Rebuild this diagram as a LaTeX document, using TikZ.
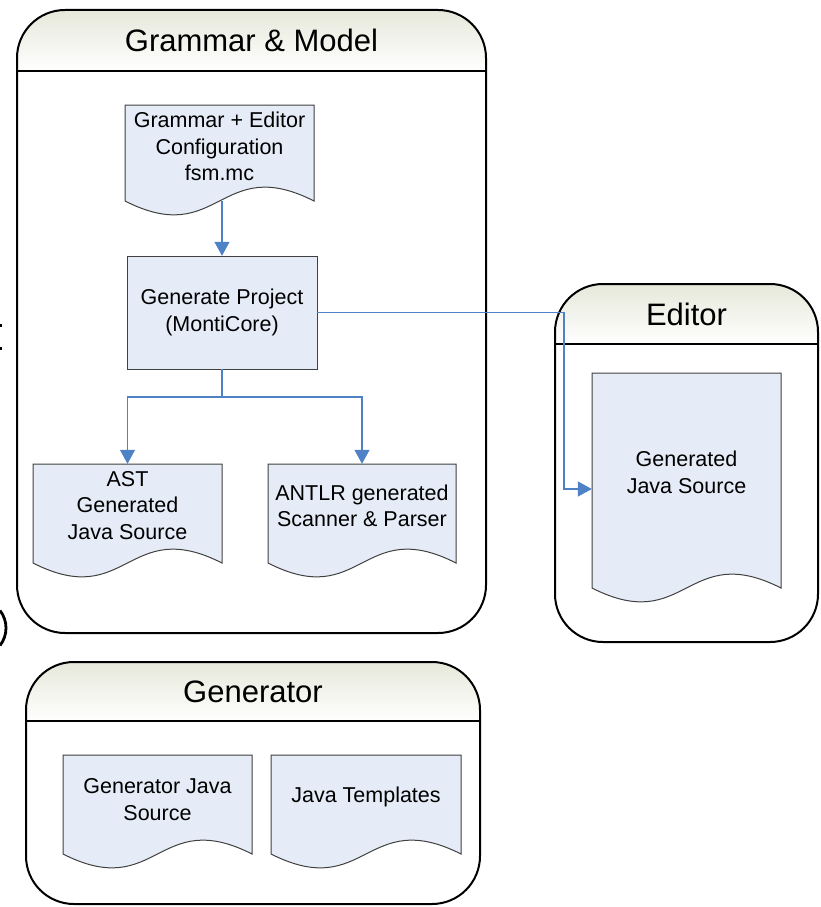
\documentclass[tikz,border=0pt]{standalone}
\usepackage{fontspec}
\setmainfont{Liberation Sans}
\usetikzlibrary{arrows.meta,fit}

\definecolor{docfill}{HTML}{E6ECF7}
\definecolor{docline}{HTML}{404040}
\definecolor{connblue}{HTML}{4F81C7}
\definecolor{hdrtop}{HTML}{E6E8DA}

\tikzset{
  lane/.style={draw=black, line width=2pt, rounded corners=48},
  lanetitle/.style={font=\fontsize{31}{36}\selectfont, inner sep=0pt},
  docbody/.style={fill=docfill, draw=docline, line width=1pt},
  doctext/.style={font=\fontsize{21.5}{26.5}\selectfont, align=center, inner sep=0pt},
  conn/.style={draw=connblue, line width=1.2pt},
  arrow/.style={conn, -{Triangle[length=14pt,width=15pt]}},
}

% document shape with a wavy lower edge: name, left, top, right, base line of the wave
\newcommand\wavydoc[5]{%
  \filldraw[docbody] (#2,#3) -- (#4,#3) -- (#4,#5)
    .. controls ({(#2+#4)/2},{#5-48}) and ({(#2+#4)/2},{#5+48}) .. (#2,#5) -- cycle;
  \node[fit={(#2,#3) (#4,#5)}, inner sep=0pt] (#1) {};
}

% container with a shaded header band: name, left, top, right, bottom, header line, title
\newcommand\swimlane[7]{%
  \begin{scope}
    \clip[rounded corners=48] (#2,#3) rectangle (#4,#5);
    \shade[top color=hdrtop, bottom color=white] (#2,#3) rectangle (#4,#6);
  \end{scope}
  \draw[lane] (#2,#3) rectangle (#4,#5);
  \draw[line width=1.6pt] (#2,#6) -- (#4,#6);
  \node[lanetitle] (#1) at ({(#2+#4)/2},{(#3+#6)/2}) {#7};
}

\begin{document}
\begin{tikzpicture}[x=1pt, y=-1pt]
  \useasboundingbox (0,0) rectangle (821,907);

  % fragments cut off at the left margin
  \draw[line width=2.8pt] (-22.5,628) ++(-38:28.5) arc[start angle=-38, end angle=38, radius=28.5];
  \fill (0,324) rectangle (2,326.5);
  \fill (0,347) rectangle (2,349.5);

  % containers
  \swimlane{gmTitle}{17}{10}{486}{633}{71}{Grammar \& Model}
  \swimlane{edTitle}{555}{284}{818}{642}{344}{Editor}
  \swimlane{genTitle}{26}{662}{480}{904}{721}{Generator}

  % grammar & model content
  \wavydoc{gram}{125}{105}{314}{201}
  \node[doctext] (gramText) at (219.5,146.5) {Grammar + Editor\\Configuration\\fsm.mc};

  \filldraw[docbody] (127,256) rectangle (317,369);
  \node[fit={(127,256) (317,369)}, inner sep=0pt] (gp) {};
  \node[doctext] (gpText) at (222,312.5) {Generate Project\\(MontiCore)};

  \wavydoc{ast}{33}{464}{222}{563}
  \node[doctext] (astText) at (127.5,505.5) {AST\\Generated\\Java Source};

  \wavydoc{antlr}{268}{464}{456}{563}
  \node[doctext] (antlrText) at (362,506) {ANTLR generated\\Scanner \& Parser};

  % editor content
  \wavydoc{edoc}{592}{373}{781}{588}
  \node[doctext] (edocText) at (686.5,472.5) {Generated\\Java Source};

  % generator content
  \wavydoc{gsrc}{63}{755}{252}{854}
  \node[doctext] (gsrcText) at (157.5,799.5) {Generator Java\\Source};

  \wavydoc{tmpl}{271}{755}{461}{854}
  \node[doctext] (tmplText) at (366,797) {Java Templates};

  % connectors
  \coordinate (split) at (222,397);
  \coordinate (elbow) at (564,489);
  \draw[arrow] (gram.south -| gp.north) -- (gp.north);
  \draw[conn] (gp.south) -- (split);
  \draw[arrow] (split) -| (ast.north);
  \draw[arrow] (split) -| (antlr.north);
  \draw[arrow] (gp.east) -| (elbow) -- (elbow -| edoc.west);
\end{tikzpicture}
\end{document}
